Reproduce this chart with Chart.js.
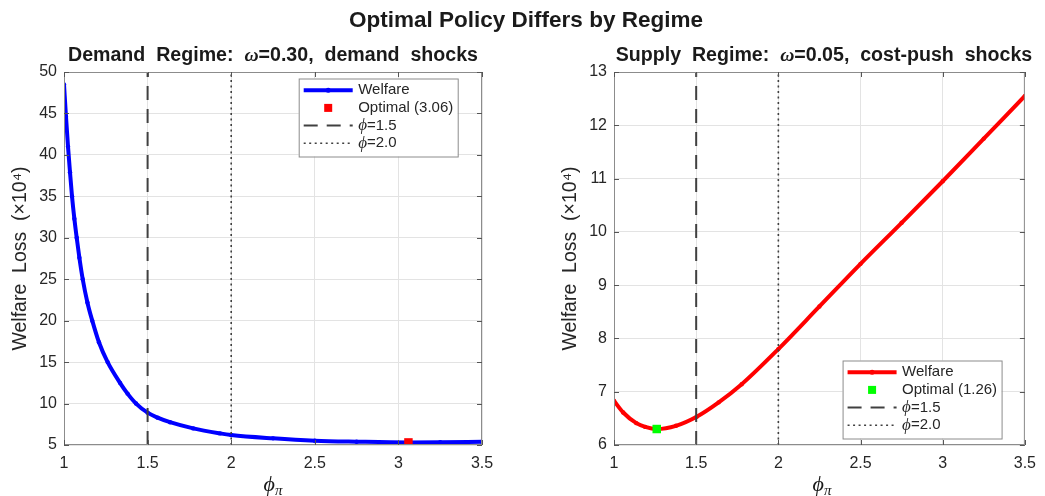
<!DOCTYPE html>
<html>
<head>
<meta charset="utf-8">
<script src="https://cdn.jsdelivr.net/npm/chart.js@4"></script>
<style>
  body { margin: 0; background: #fff; width: 1045px; height: 496px; position: relative; overflow: hidden; }
  canvas { position: absolute; top: 0; }
  .txt { position: absolute; color: #1a1a1a; font-family: "Liberation Sans", Arial, sans-serif; white-space: pre; transform: translate(-50%, -50%); }
  .main { font-weight: bold; font-size: 22.5px; }
  .sub { font-weight: bold; font-size: 19.6px; }
  .sym { font-family: "Liberation Serif", serif; font-style: italic; }
  .xlab { font-family: "Liberation Serif", serif; font-style: italic; font-size: 22px; }
  .xlab sub { font-size: 15px; vertical-align: -4px; }
</style>
</head>
<body>
<canvas id="demandChart" width="522" height="496" style="left:0"></canvas>
<canvas id="supplyChart" width="523" height="496" style="left:522px"></canvas>

<div class="txt main" style="left:526px; top:20px">Optimal Policy Differs by Regime</div>
<div class="txt sub" style="left:273px; top:54px">Demand  Regime:  <span class="sym">ω</span>=0.30,  demand  shocks</div>
<div class="txt sub" style="left:824px; top:54px">Supply  Regime:  <span class="sym">ω</span>=0.05,  cost-push  shocks</div>
<div class="txt xlab" style="left:273px; top:485px">ϕ<sub>π</sub></div>
<div class="txt xlab" style="left:822px; top:485px">ϕ<sub>π</sub></div>

<script>
// values
const phiDemand  = [1.000, 1.012, 1.024, 1.036, 1.048, 1.062, 1.076, 1.092, 1.112, 1.140, 1.169, 1.209, 1.261, 1.335, 1.380, 1.431, 1.500, 1.560, 1.634, 1.773, 1.933, 2.000, 2.250, 2.500, 2.750, 3.060, 3.250, 3.500];
const lossDemand = [48.5, 44.6, 41.0, 37.9, 35.0, 32.3, 30.0, 27.6, 25.0, 22.2, 20.0, 17.4, 15.0, 12.5, 11.2, 10.0, 8.9, 8.3, 7.75, 7.0, 6.4, 6.2, 5.8, 5.52, 5.4, 5.31, 5.33, 5.4];

const phiSupply  = [1.000, 1.056, 1.136, 1.190, 1.260, 1.377, 1.503, 1.637, 1.777, 2.000, 2.250, 2.500, 2.750, 3.000, 3.250, 3.500];
const lossSupply = [6.83, 6.61, 6.41, 6.34, 6.30, 6.36, 6.53, 6.80, 7.14, 7.80, 8.60, 9.40, 10.17, 10.95, 11.75, 12.55];

const optimalPhi  = [3.06, 1.26];
const optimalLoss = [5.31, 6.30];
const refPhi = [1.5, 2.0];

const xTicks = [1, 1.5, 2, 2.5, 3, 3.5];
const demandYLim = [5, 50];
const supplyYLim = [6, 13];

const font = '"Liberation Sans", Arial, sans-serif';
const inkColor = '#262626';

function pairs(xs, ys) {
  return xs.map((x, i) => ({ x: x, y: ys[i] }));
}

// matlab-ish box, inward ticks and legend drawn by hand
const matlabBox = {
  id: 'matlabBox',
  afterDraw(chart, args, opts) {
    const ctx = chart.ctx;
    const a = chart.chartArea;
    const sx = chart.scales.x, sy = chart.scales.y;
    ctx.save();
    ctx.strokeStyle = '#8c8c8c';
    ctx.lineWidth = 1;
    ctx.strokeRect(a.left + 0.5, a.top + 0.5, a.right - a.left - 1, a.bottom - a.top - 1);
    ctx.strokeStyle = '#555';
    ctx.beginPath();
    sx.ticks.forEach(t => {
      const px = Math.round(sx.getPixelForValue(t.value)) + 0.5;
      ctx.moveTo(px, a.bottom); ctx.lineTo(px, a.bottom - 5);
      ctx.moveTo(px, a.top); ctx.lineTo(px, a.top + 5);
    });
    sy.ticks.forEach(t => {
      const py = Math.round(sy.getPixelForValue(t.value)) + 0.5;
      ctx.moveTo(a.left, py); ctx.lineTo(a.left + 5, py);
      ctx.moveTo(a.right, py); ctx.lineTo(a.right - 5, py);
    });
    ctx.stroke();

    // legend
    const w = 159, h = 78, rowH = 17.7;
    const bx = a.right - opts.inset - w;
    const by = opts.corner === 'top' ? a.top + 6.5 : a.bottom - 6.5 - h;
    ctx.fillStyle = '#fff';
    ctx.fillRect(bx, by, w, h);
    ctx.strokeStyle = '#8c8c8c';
    ctx.strokeRect(bx + 0.5, by + 0.5, w, h);
    const x0 = bx + 5, x1 = bx + 54, tx = bx + 59.5;
    opts.items.forEach((it, i) => {
      const cy = by + 11.7 + i * rowH;
      ctx.setLineDash([]);
      if (it.kind === 'line') {
        ctx.strokeStyle = it.color; ctx.lineWidth = 4;
        ctx.beginPath(); ctx.moveTo(x0, cy); ctx.lineTo(x1, cy); ctx.stroke();
        ctx.fillStyle = it.color;
        ctx.beginPath(); ctx.arc((x0 + x1) / 2, cy, 2.5, 0, Math.PI * 2); ctx.fill();
      } else if (it.kind === 'square') {
        ctx.fillStyle = it.color;
        ctx.fillRect((x0 + x1) / 2 - 4, cy - 4, 8, 8);
      } else {
        ctx.strokeStyle = '#404040'; ctx.lineWidth = it.kind === 'dash' ? 2 : 1.6;
        ctx.setLineDash(it.kind === 'dash' ? [14, 9] : [2, 3.5]);
        ctx.beginPath(); ctx.moveTo(x0, cy); ctx.lineTo(x1, cy); ctx.stroke();
        ctx.setLineDash([]);
      }
      ctx.fillStyle = inkColor;
      ctx.textBaseline = 'middle';
      ctx.textAlign = 'left';
      if (it.sym) {
        ctx.font = 'italic 17px "Liberation Serif", serif';
        ctx.fillText(it.sym, tx, cy);
        const sw = ctx.measureText(it.sym).width;
        ctx.font = '15px ' + font;
        ctx.fillText(it.label, tx + sw, cy);
      } else {
        ctx.font = '15px ' + font;
        ctx.fillText(it.label, tx, cy);
      }
    });
    ctx.restore();
  }
};

function makeChart(id, cfg) {
  const [ymin, ymax] = cfg.yLim;
  return new Chart(document.getElementById(id), {
    type: 'line',
    data: {
      datasets: [
        {
          label: 'Welfare',
          data: pairs(cfg.phi, cfg.loss),
          borderColor: cfg.color, backgroundColor: cfg.color,
          borderWidth: 4, pointRadius: 2.2, pointBorderWidth: 0,
          cubicInterpolationMode: 'monotone', order: 3
        },
        {
          label: cfg.optLabel,
          data: [{ x: cfg.optPhi, y: cfg.optLoss }],
          showLine: false, pointStyle: 'rect', pointRadius: 6,
          backgroundColor: cfg.optColor, borderColor: cfg.optColor, borderWidth: 0, order: 2
        },
        {
          label: 'ϕ=1.5',
          data: [{ x: refPhi[0], y: ymin }, { x: refPhi[0], y: ymax }],
          borderColor: '#404040', borderWidth: 2, borderDash: [14, 9], pointRadius: 0, order: 1
        },
        {
          label: 'ϕ=2.0',
          data: [{ x: refPhi[1], y: ymin }, { x: refPhi[1], y: ymax }],
          borderColor: '#404040', borderWidth: 1.6, borderDash: [2, 3.5], pointRadius: 0, order: 1
        }
      ]
    },
    options: {
      responsive: false,
      animation: false,
      devicePixelRatio: 1,
      layout: { padding: cfg.padding },
      plugins: {
        legend: { display: false },
        tooltip: { enabled: false },
        matlabBox: {
          corner: cfg.corner, inset: cfg.inset,
          items: [
            { kind: 'line', color: cfg.color, label: 'Welfare' },
            { kind: 'square', color: cfg.optColor, label: cfg.optLabel },
            { kind: 'dash', sym: 'ϕ', label: '=1.5' },
            { kind: 'dot', sym: 'ϕ', label: '=2.0' }
          ]
        }
      },
      scales: {
        x: {
          type: 'linear', min: 1, max: 3.5,
          afterBuildTicks: s => { s.ticks = xTicks.map(v => ({ value: v })); },
          afterFit: s => { s.height = 51; },
          grid: { color: '#e3e3e3', drawTicks: false },
          border: { display: false },
          ticks: {
            padding: 9, color: inkColor, font: { family: font, size: 16 }, maxRotation: 0,
            callback: v => String(v)
          }
        },
        y: {
          min: ymin, max: ymax,
          afterFit: s => { s.width = 58; },
          grid: { color: '#e3e3e3', drawTicks: false },
          border: { display: false },
          ticks: { stepSize: cfg.yStep, padding: 7, color: inkColor, font: { family: font, size: 16 } },
          title: {
            display: true, text: 'Welfare  Loss  (×10⁴)', color: inkColor,
            font: { family: font, size: 19.5 }, padding: { top: 3, bottom: 0 }
          }
        }
      }
    },
    plugins: [matlabBox]
  });
}

makeChart('demandChart', {
  phi: phiDemand, loss: lossDemand, color: '#0000ff',
  optPhi: optimalPhi[0], optLoss: optimalLoss[0], optColor: '#ff0000', optLabel: 'Optimal (3.06)',
  yLim: demandYLim, yStep: 5,
  padding: { left: 6, right: 40, top: 72, bottom: 0 },
  corner: 'top', inset: 24.3
});

makeChart('supplyChart', {
  phi: phiSupply, loss: lossSupply, color: '#ff0000',
  optPhi: optimalPhi[1], optLoss: optimalLoss[1], optColor: '#00ff00', optLabel: 'Optimal (1.26)',
  yLim: supplyYLim, yStep: 1,
  padding: { left: 34, right: 15, top: 72, bottom: 0 },
  corner: 'bottom', inset: 23.3
});
</script>
</body>
</html>
